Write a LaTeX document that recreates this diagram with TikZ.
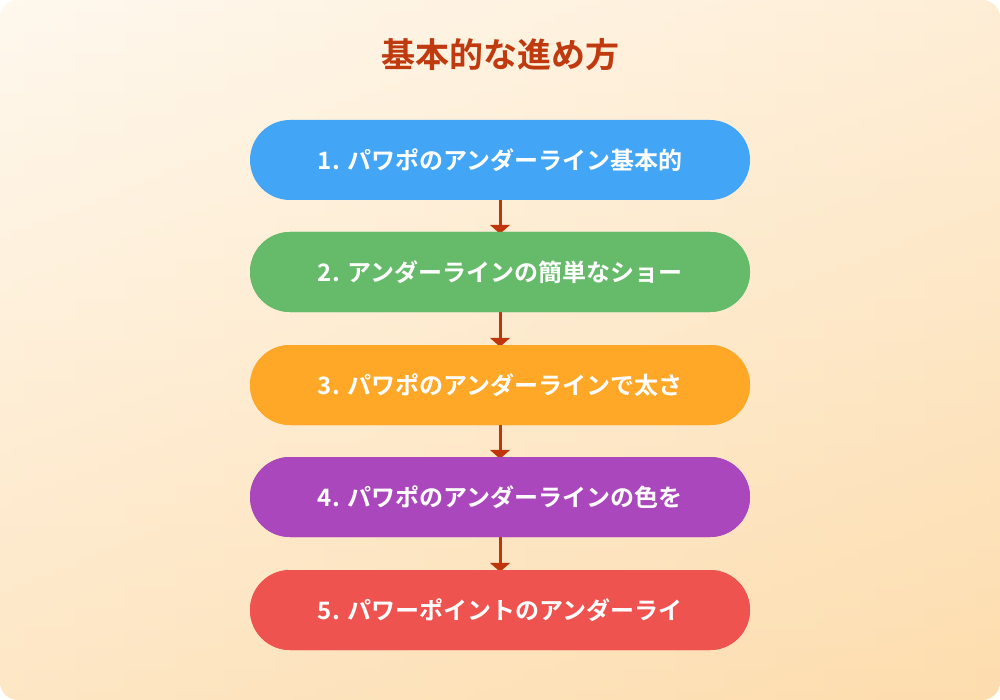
\documentclass[tikz,border=0pt]{standalone}
\usepackage{fontspec}
\newfontfamily\cjk{Noto Sans CJK JP Bold}
\usetikzlibrary{arrows.meta}
\definecolor{bgA}{HTML}{FEF1DC}
\definecolor{bgB}{HTML}{FDDDAE}
\definecolor{ttl}{HTML}{BF3A0E}
\definecolor{arr}{HTML}{BF360C}
\definecolor{cA}{HTML}{42A5F5}
\definecolor{cB}{HTML}{66BB6A}
\definecolor{cC}{HTML}{FFA726}
\definecolor{cD}{HTML}{AB47BC}
\definecolor{cE}{HTML}{EF5350}
\tikzset{stepbox/.style={rounded corners=40pt,minimum width=500pt,minimum height=80pt,text=white,font=\cjk\fontsize{24}{28}\selectfont,inner sep=0pt},
link/.style={draw=arr,line width=3pt,-{Triangle[width=20pt,length=9pt]}}}
\begin{document}
\begin{tikzpicture}[x=1pt,y=-1pt]
\useasboundingbox (0,0) rectangle (1000,700);
\shade[left color=bgA,right color=bgB,rounded corners=18pt] (0,0) rectangle (1000,700);
\shade[top color=bgA!0,bottom color=bgB,opacity=0.5,rounded corners=18pt] (0,0) rectangle (1000,700);
\node[font=\cjk\fontsize{34}{40}\selectfont,text=ttl] (t) at (500,55) {基本的な進め方};
\node[stepbox,fill=cA] (a) at (500,160) {1. パワポのアンダーライン基本的};
\node[stepbox,fill=cB] (b) at (500,272) {2. アンダーラインの簡単なショー};
\node[stepbox,fill=cC] (c) at (500,385) {3. パワポのアンダーラインで太さ};
\node[stepbox,fill=cD] (d) at (500,497) {4. パワポのアンダーラインの色を};
\node[stepbox,fill=cE] (e) at (500,610) {5. パワーポイントのアンダーライ};
\foreach \p/\q in {a/b,b/c,c/d,d/e}{\draw[link] (\p.south) -- ([yshift=-2pt]\q.north);}
\foreach \c/\y in {cB/272,cC/385,cD/497,cE/610}{\fill[\c,rounded corners=40pt] (250,\y-40) rectangle (750,\y+40);}
\node[stepbox] at (b) {2. アンダーラインの簡単なショー};
\node[stepbox] at (c) {3. パワポのアンダーラインで太さ};
\node[stepbox] at (d) {4. パワポのアンダーラインの色を};
\node[stepbox] at (e) {5. パワーポイントのアンダーライ};
\end{tikzpicture}
\end{document}
